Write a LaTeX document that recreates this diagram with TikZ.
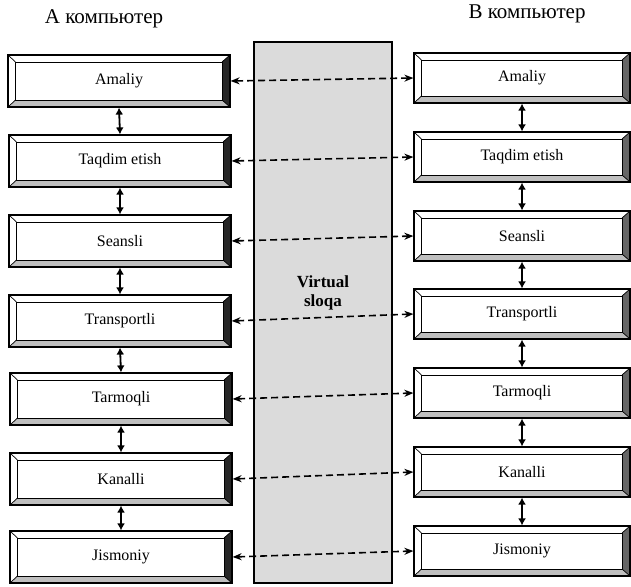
\documentclass[tikz,border=0pt]{standalone}
\usepackage{fontspec}
\setmainfont{Liberation Serif}
\usetikzlibrary{arrows.meta,calc}
\tikzset{
  bevbox/.style={draw, line width=1.2pt, inner sep=0pt, font=\fontsize{16}{18}\selectfont,
    minimum width=#1, minimum height=52pt,
    path picture={
      \coordinate (sw) at (path picture bounding box.south west);
      \coordinate (se) at (path picture bounding box.south east);
      \coordinate (ne) at (path picture bounding box.north east);
      \coordinate (nw) at (path picture bounding box.north west);
      \coordinate (isw) at ($(sw)+(7.5pt,7pt)$);
      \coordinate (ise) at ($(se)+(-8pt,7pt)$);
      \coordinate (ine) at ($(ne)+(-8pt,-7pt)$);
      \coordinate (inw) at ($(nw)+(7.5pt,-7pt)$);
      \fill[gray!50] (sw) -- (se) -- (ise) -- (isw) -- cycle;
      \fill[bevdark] (se) -- (ne) -- (ine) -- (ise) -- cycle;
      \draw[line width=1pt] (isw) rectangle (ine);
      \draw[line width=0.7pt] (sw) -- (isw) (se) -- (ise) (ne) -- (ine) (nw) -- (inw);
    }},
  bevdark/.style={fill=black!85},
  leftbox/.style={bevbox=222pt},
  rightbox/.style={bevbox=216pt, minimum height=50pt, bevdark/.style={fill=black!60}},
  vlink/.style={{Latex[length=7pt,width=8pt]}-{Latex[length=7pt,width=8pt]}, line width=1.8pt},
  hlink/.style={{Stealth[length=9pt,width=7pt]}-{Stealth[length=9pt,width=7pt]}, line width=1.6pt, dash pattern=on 7pt off 4pt},
  title/.style={font=\fontsize{21}{23}\selectfont}
}
\begin{document}
\begin{tikzpicture}[x=1pt,y=-1pt]
\useasboundingbox (0,0) rectangle (631,586);
\node[draw, line width=1.2pt, fill=gray!28, minimum width=138pt, minimum height=541pt] (virt) at (323,312.5) {};
\node[font=\fontsize{17}{19}\selectfont\bfseries, align=center] (vtext) at (323,293) {Virtual\\sloqa};
\node[title] (ta) at (104,19) {А компьютер};
\node[title] (tb) at (527,14) {В компьютер};
\node[leftbox] (L1) at (119,81) {Amaliy};
\node[leftbox] (L2) at (120,161) {Taqdim etish};
\node[leftbox] (L3) at (120,241) {Seansli};
\node[leftbox] (L4) at (120,321) {Transportli};
\node[leftbox] (L5) at (121,399) {Tarmoqli};
\node[leftbox] (L6) at (121,479) {Kanalli};
\node[leftbox] (L7) at (121,557) {Jismoniy};
\node[rightbox] (R1) at (522,78) {Amaliy};
\node[rightbox] (R2) at (522,157) {Taqdim etish};
\node[rightbox] (R3) at (522,236) {Seansli};
\node[rightbox] (R4) at (522,314) {Transportli};
\node[rightbox] (R5) at (522,393) {Tarmoqli};
\node[rightbox] (R6) at (522,472) {Kanalli};
\node[rightbox] (R7) at (522,551) {Jismoniy};
\foreach \a/\b in {1/2,2/3,3/4,4/5,5/6,6/7}{
  \draw[vlink] (L\a.south) -- (L\b.north);
  \draw[vlink] (R\a.south) -- (R\b.north);
}
\foreach \i in {1,...,7}{
  \draw[hlink] (L\i.east) -- (R\i.west);
}
\end{tikzpicture}
\end{document}
